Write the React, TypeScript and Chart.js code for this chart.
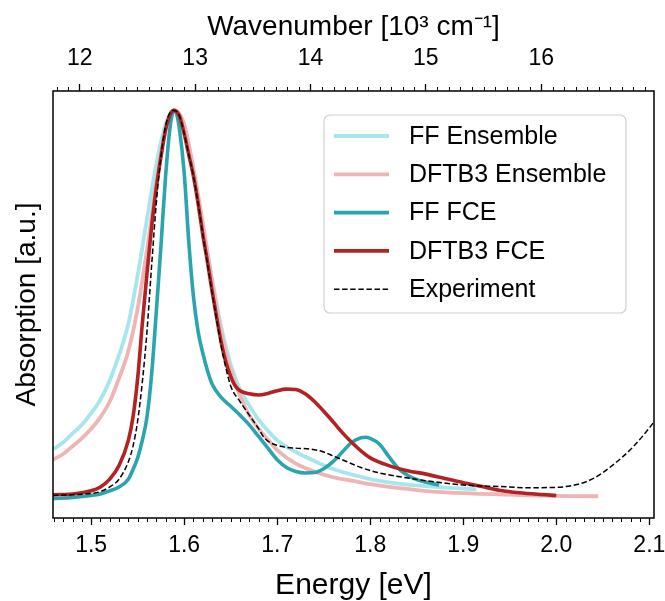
import React, { useEffect, useRef } from "react";
import { Chart, registerables } from "chart.js";

Chart.register(...registerables);

const FONT = "'Liberation Sans', Arial, Helvetica, sans-serif";
const EV_TO_KCM = 8.06554;
const X_MIN = 1.459;
const X_MAX = 2.105;
const Y_MIN = -0.05;
const Y_MAX = 1.05;

const energyTicks = [1.5, 1.6, 1.7, 1.8, 1.9, 2.0, 2.1];
const wavenumberTicks = [12, 13, 14, 15, 16];

const seriesLabels = ["FF Ensemble", "DFTB3 Ensemble", "FF FCE", "DFTB3 FCE", "Experiment"];

const ffEnsembleE = [1.459, 1.47, 1.48, 1.49, 1.5, 1.51, 1.52, 1.53, 1.54, 1.55, 1.56, 1.57, 1.58, 1.589, 1.6, 1.61, 1.62, 1.63, 1.64, 1.65, 1.66, 1.67, 1.68, 1.69, 1.7, 1.72, 1.74, 1.76, 1.78, 1.8, 1.82, 1.84, 1.86, 1.88, 1.9, 1.914];
const ffEnsembleA = [0.127, 0.145, 0.168, 0.19, 0.22, 0.255, 0.305, 0.37, 0.45, 0.575, 0.72, 0.86, 0.965, 1.0, 0.95, 0.84, 0.705, 0.565, 0.44, 0.345, 0.28, 0.24, 0.203, 0.175, 0.15, 0.12, 0.097, 0.076, 0.062, 0.05, 0.042, 0.036, 0.032, 0.028, 0.026, 0.024];

const dftbEnsembleE = [1.459, 1.47, 1.48, 1.49, 1.5, 1.51, 1.52, 1.53, 1.54, 1.55, 1.56, 1.57, 1.58, 1.589, 1.6, 1.61, 1.62, 1.63, 1.64, 1.65, 1.66, 1.67, 1.68, 1.69, 1.7, 1.72, 1.74, 1.76, 1.78, 1.8, 1.82, 1.84, 1.86, 1.88, 1.9, 1.92, 1.94, 1.96, 1.98, 2.0, 2.02, 2.045];
const dftbEnsembleA = [0.1, 0.115, 0.135, 0.155, 0.18, 0.21, 0.25, 0.31, 0.38, 0.49, 0.64, 0.81, 0.95, 1.0, 0.965, 0.85, 0.71, 0.56, 0.425, 0.33, 0.265, 0.215, 0.18, 0.152, 0.125, 0.09, 0.07, 0.055, 0.046, 0.037, 0.03, 0.025, 0.019, 0.016, 0.014, 0.012, 0.011, 0.009, 0.008, 0.007, 0.0065, 0.006];

const ffFceE = [1.459, 1.48, 1.5, 1.51, 1.52, 1.53, 1.54, 1.545, 1.55, 1.555, 1.56, 1.565, 1.57, 1.575, 1.58, 1.585, 1.589, 1.592, 1.595, 1.6, 1.605, 1.61, 1.615, 1.62, 1.625, 1.63, 1.64, 1.65, 1.66, 1.67, 1.68, 1.69, 1.7, 1.71, 1.72, 1.73, 1.74, 1.75, 1.76, 1.77, 1.78, 1.79, 1.795, 1.8, 1.81, 1.82, 1.83, 1.84, 1.85, 1.86, 1.874];
const ffFceA = [0.0, 0.003, 0.008, 0.012, 0.02, 0.03, 0.05, 0.075, 0.105, 0.15, 0.21, 0.32, 0.48, 0.65, 0.83, 0.96, 1.0, 0.99, 0.95, 0.84, 0.66, 0.52, 0.43, 0.375, 0.33, 0.295, 0.26, 0.238, 0.215, 0.19, 0.16, 0.13, 0.1, 0.08, 0.07, 0.066, 0.067, 0.077, 0.095, 0.12, 0.145, 0.157, 0.158, 0.155, 0.14, 0.108, 0.078, 0.06, 0.049, 0.042, 0.035];

const dftbFceE = [1.459, 1.48, 1.5, 1.51, 1.52, 1.53, 1.54, 1.545, 1.55, 1.555, 1.56, 1.565, 1.57, 1.575, 1.58, 1.585, 1.589, 1.595, 1.6, 1.605, 1.61, 1.615, 1.62, 1.625, 1.63, 1.635, 1.64, 1.645, 1.65, 1.655, 1.66, 1.67, 1.68, 1.69, 1.7, 1.71, 1.72, 1.73, 1.74, 1.75, 1.76, 1.77, 1.78, 1.79, 1.8, 1.82, 1.84, 1.86, 1.88, 1.9, 1.92, 1.94, 1.96, 1.98, 2.0];
const dftbFceA = [0.01, 0.012, 0.02, 0.03, 0.05, 0.085, 0.15, 0.21, 0.31, 0.45, 0.58, 0.7, 0.8, 0.88, 0.95, 0.99, 1.0, 0.985, 0.94, 0.885, 0.83, 0.76, 0.68, 0.61, 0.535, 0.465, 0.4, 0.35, 0.315, 0.29, 0.278, 0.27, 0.267, 0.271, 0.278, 0.282, 0.281, 0.27, 0.25, 0.225, 0.198, 0.17, 0.145, 0.123, 0.105, 0.085, 0.072, 0.063, 0.052, 0.041, 0.031, 0.021, 0.015, 0.011, 0.008];

const experimentE = [1.459, 1.48, 1.5, 1.51, 1.52, 1.53, 1.54, 1.545, 1.55, 1.555, 1.56, 1.565, 1.57, 1.575, 1.58, 1.585, 1.589, 1.595, 1.6, 1.605, 1.61, 1.615, 1.62, 1.625, 1.63, 1.635, 1.64, 1.645, 1.65, 1.66, 1.67, 1.68, 1.685, 1.69, 1.7, 1.71, 1.72, 1.74, 1.75, 1.76, 1.775, 1.79, 1.81, 1.83, 1.86, 1.9, 1.94, 1.97, 2.0, 2.02, 2.04, 2.06, 2.08, 2.1, 2.105];
const experimentA = [0.008, 0.01, 0.013, 0.018, 0.03, 0.05, 0.095, 0.135, 0.2, 0.3, 0.43, 0.6, 0.76, 0.88, 0.96, 0.995, 1.0, 0.985, 0.94, 0.885, 0.83, 0.76, 0.68, 0.605, 0.53, 0.46, 0.39, 0.335, 0.29, 0.25, 0.215, 0.18, 0.16, 0.148, 0.137, 0.132, 0.13, 0.126, 0.12, 0.11, 0.095, 0.08, 0.066, 0.057, 0.046, 0.035, 0.031, 0.028, 0.029, 0.035, 0.052, 0.085, 0.127, 0.182, 0.198];

const colors = ["#a6e6ec", "#efb4b4", "#2aa5ad", "#b22222", "#000000"];

function pts(xs: number[], ys: number[]) {
  return xs.map((x, i) => ({ x, y: ys[i] }));
}

const framePlugin = {
  id: "frameAndMinorTicks",
  afterDraw(chart: any) {
    const { ctx, chartArea: a, scales } = chart;
    ctx.save();
    ctx.strokeStyle = "#000";
    ctx.lineWidth = 1;
    const xs = scales.x;
    ctx.beginPath();
    for (let i = Math.ceil(xs.min * 100); i <= Math.floor(xs.max * 100); i++) {
      if (i % 10 === 0) continue;
      const px = Math.round(xs.getPixelForValue(i / 100)) + 0.5;
      ctx.moveTo(px, a.bottom);
      ctx.lineTo(px, a.bottom + 4);
    }
    const xt = scales.x2;
    for (let i = Math.ceil(xt.min * 10); i <= Math.floor(xt.max * 10); i++) {
      if (i % 10 === 0) continue;
      const px = Math.round(xt.getPixelForValue(i / 10)) + 0.5;
      ctx.moveTo(px, a.top);
      ctx.lineTo(px, a.top - 4);
    }
    ctx.stroke();
    ctx.lineWidth = 1.5;
    ctx.strokeRect(a.left, a.top, a.right - a.left, a.bottom - a.top);

    // legend
    const bx = a.right - 330;
    const by = a.top + 24;
    const bw = 302;
    const bh = 198;
    const r = 6;
    ctx.beginPath();
    ctx.moveTo(bx + r, by);
    ctx.lineTo(bx + bw - r, by);
    ctx.arcTo(bx + bw, by, bx + bw, by + r, r);
    ctx.lineTo(bx + bw, by + bh - r);
    ctx.arcTo(bx + bw, by + bh, bx + bw - r, by + bh, r);
    ctx.lineTo(bx + r, by + bh);
    ctx.arcTo(bx, by + bh, bx, by + bh - r, r);
    ctx.lineTo(bx, by + r);
    ctx.arcTo(bx, by, bx + r, by, r);
    ctx.closePath();
    ctx.fillStyle = "rgba(255,255,255,0.85)";
    ctx.fill();
    ctx.strokeStyle = "#d0d0d0";
    ctx.lineWidth = 1.2;
    ctx.stroke();

    const ds = chart.data.datasets;
    ctx.font = `25px ${FONT}`;
    ctx.textBaseline = "middle";
    ctx.textAlign = "left";
    ds.forEach((d: any, i: number) => {
      const y = by + 21 + i * 38.3;
      ctx.beginPath();
      ctx.strokeStyle = d.borderColor;
      ctx.lineWidth = d.borderWidth;
      ctx.setLineDash(d.borderDash || []);
      ctx.moveTo(bx + 10, y);
      ctx.lineTo(bx + 65, y);
      ctx.stroke();
      ctx.setLineDash([]);
      ctx.fillStyle = "#000";
      ctx.fillText(d.label, bx + 85, y + 1);
    });
    ctx.restore();
  },
};

export default function App() {
  const ref = useRef<HTMLCanvasElement | null>(null);
  useEffect(() => {
    if (!ref.current) return;
    const tickFont = { family: FONT, size: 23, lineHeight: 1 };
    const titleFont = { family: FONT, size: 28, lineHeight: 1 };
    const mk = (i: number, xs: number[], ys: number[], width: number, order: number, dash?: number[]) => ({
      label: seriesLabels[i],
      data: pts(xs, ys),
      borderColor: colors[i],
      backgroundColor: colors[i],
      borderWidth: width,
      borderDash: dash,
      pointRadius: 0,
      fill: false,
      cubicInterpolationMode: "monotone" as const,
      order,
    });
    const chart = new Chart(ref.current, {
      type: "line",
      data: {
        datasets: [
          mk(0, ffEnsembleE, ffEnsembleA, 3.8, 4),
          mk(1, dftbEnsembleE, dftbEnsembleA, 3.8, 3),
          mk(2, ffFceE, ffFceA, 3.6, 2),
          mk(3, dftbFceE, dftbFceA, 3.6, 1),
          mk(4, experimentE, experimentA, 1.5, 0, [5.5, 2.6]),
        ] as any,
      },
      options: {
        responsive: false,
        animation: false,
        devicePixelRatio: 1,
        layout: { padding: { left: 0, right: 11, top: 0, bottom: 0 } },
        plugins: { legend: { display: false }, tooltip: { enabled: false } },
        scales: {
          x: {
            type: "linear",
            position: "bottom",
            min: X_MIN,
            max: X_MAX,
            afterBuildTicks: (s: any) => {
              s.ticks = energyTicks.map((v) => ({ value: v }));
            },
            afterFit: (s: any) => {
              s.height = 83;
              s.paddingLeft = 0;
              s.paddingRight = 0;
            },
            ticks: {
              callback: (v: any) => Number(v).toFixed(1),
              font: tickFont,
              color: "#000",
              padding: 9,
              maxRotation: 0,
              autoSkip: false,
            },
            grid: { drawOnChartArea: false, drawTicks: true, tickLength: 7, tickWidth: 1.3, tickColor: "#000" },
            border: { display: false },
            title: { display: true, text: "Energy [eV]", font: { family: FONT, size: 30, lineHeight: 1 }, color: "#000", padding: { top: 0, bottom: 0 } },
          },
          x2: {
            type: "linear",
            position: "top",
            min: X_MIN * EV_TO_KCM,
            max: X_MAX * EV_TO_KCM,
            afterBuildTicks: (s: any) => {
              s.ticks = wavenumberTicks.map((v) => ({ value: v }));
            },
            afterFit: (s: any) => {
              s.height = 91;
              s.paddingLeft = 0;
              s.paddingRight = 0;
            },
            ticks: {
              callback: (v: any) => String(v),
              font: tickFont,
              color: "#000",
              padding: 14,
              maxRotation: 0,
              autoSkip: false,
            },
            grid: { drawOnChartArea: false, drawTicks: true, tickLength: 7, tickWidth: 1.3, tickColor: "#000" },
            border: { display: false },
            title: { display: true, text: "Wavenumber [10³ cm⁻¹]", font: titleFont, color: "#000", padding: { top: 13, bottom: 0 } },
          },
          y: {
            type: "linear",
            min: Y_MIN,
            max: Y_MAX,
            afterFit: (s: any) => {
              s.width = 53;
            },
            ticks: { display: false },
            grid: { display: false },
            border: { display: false },
            title: { display: true, text: "Absorption [a.u.]", font: titleFont, color: "#000", padding: { top: 13.5, bottom: 0 } },
          },
        },
      } as any,
      plugins: [framePlugin],
    });
    return () => chart.destroy();
  }, []);
  return (
    <div style={{ position: "absolute", left: 0, top: 0, width: 665, height: 601, background: "#fff" }}>
      <canvas ref={ref} width={665} height={601} />
    </div>
  );
}
